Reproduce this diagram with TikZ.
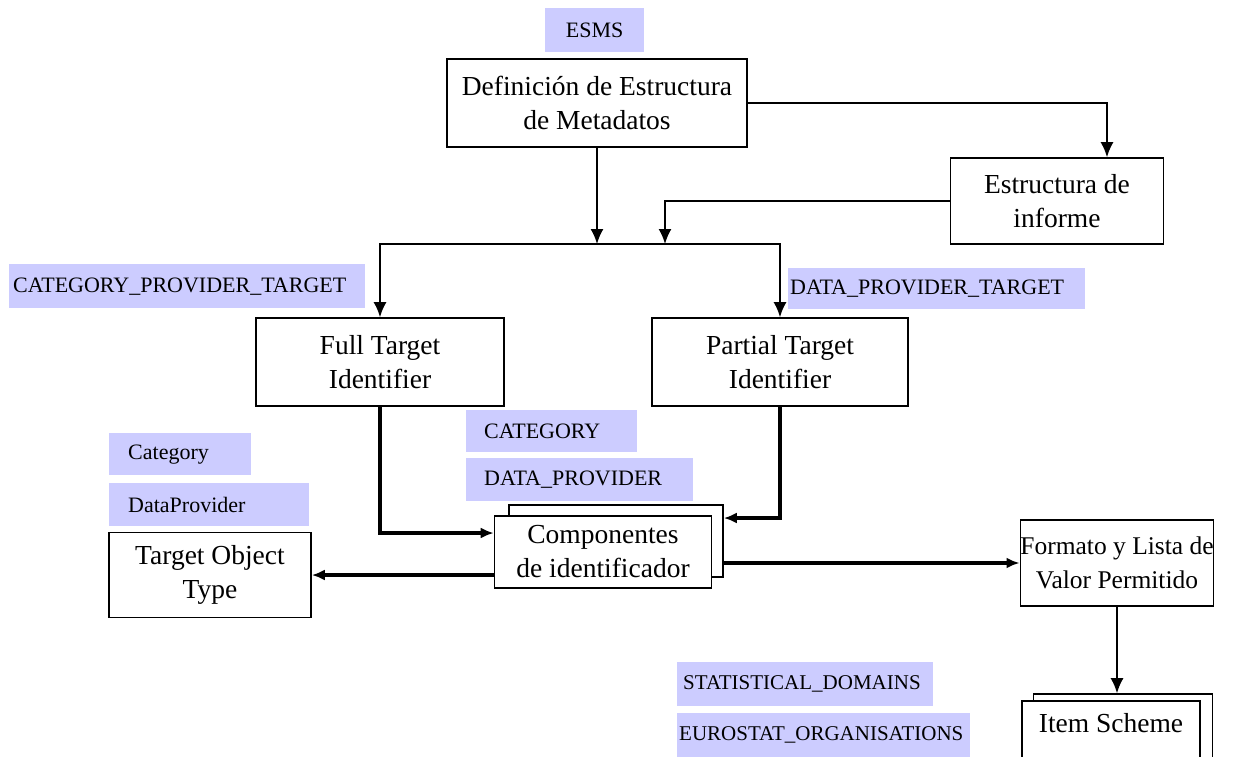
\documentclass[tikz,border=0pt]{standalone}
\usepackage{fontspec}
\setmainfont{Liberation Serif}
\usetikzlibrary{arrows.meta}
\definecolor{lav}{RGB}{204,204,255}

\begin{document}
\begin{tikzpicture}[x=1pt,y=-1pt,
		box/.style={draw, line width=1.6pt, fill=white, align=center, inner sep=0pt, font=\fontsize{27.5}{34}\selectfont},
		tag/.style={fill=lav, anchor=north west, inner ysep=0pt, align=left, font=\fontsize{22}{24}\selectfont},
		conn/.style={line width=1.8pt, arrows=-{Latex[length=15pt,width=13pt]}},
		bold/.style={line width=3.5pt, arrows=-{Latex[length=13pt,width=11pt]}}]
		\useasboundingbox (0,0) rectangle (1244,756);
		\clip (0,0) rectangle (1244,756);
		
		\node[tag, align=center, minimum width=99, text width=91, inner xsep=4, minimum height=44] (esms) at (545,8) {ESMS};
		\node[box, minimum width=300, minimum height=88] (dem) at (597,103) {Definición de Estructura\\de Metadatos};
		\node[box, minimum width=213, minimum height=86] (estr) at (1057,201) {Estructura de\\informe};
		
		\coordinate (join) at (665,244);
		\coordinate (busR) at (780,244);
		
		\node[tag, minimum width=356, text width=348, inner xsep=4, minimum height=44] (cpt) at (9,264) {CATEGORY\_PROVIDER\_TARGET};
		\node[tag, minimum width=297, text width=293, inner xsep=2, minimum height=41] (dpt) at (788,268) {DATA\_PROVIDER\_TARGET};
		
		\node[box, minimum width=248, minimum height=88] (full) at (380,362) {Full Target\\Identifier};
		\node[box, minimum width=256, minimum height=88] (part) at (780,362) {Partial Target\\Identifier};
		
		\node[tag, minimum width=171, text width=135, inner xsep=18, minimum height=42] (cat) at (466,410) {CATEGORY};
		\node[tag, minimum width=227, text width=191, inner xsep=18, minimum height=43] (dprov) at (466,458) {DATA\_PROVIDER};
		\node[tag, minimum width=142, text width=104, inner xsep=19, minimum height=42] (catobj) at (109,433) {Category};
		\node[tag, minimum width=200, text width=162, inner xsep=19, minimum height=43] (dpobj) at (109,483) {DataProvider};
		
		\node[box, minimum width=214, minimum height=72] (compB) at (616,541) {};
		\node[box, minimum width=217, minimum height=72] (compF) at (603,552) {Componentes\\de identificador};
		
		\node[box, minimum width=202, minimum height=85] (target) at (210,575) {Target Object\\Type};
		\node[box, minimum width=191, minimum height=86, font=\fontsize{25.5}{34}\selectfont] (formato) at (1117,563) {Formato y Lista de\\Valor Permitido};
		
		\node[tag, minimum width=256, text width=244, inner xsep=6, minimum height=44, font=\fontsize{21}{24}\selectfont] (stat) at (677,662) {STATISTICAL\_DOMAINS};
		\node[tag, minimum width=293, text width=289, inner xsep=2, minimum height=44, font=\fontsize{21}{24}\selectfont] (euro) at (677,713) {EUROSTAT\_ORGANISATIONS};
		
		\node[box, minimum width=179, minimum height=76] (itemB) at (1123,732) {};
		\node[box, minimum width=178, minimum height=76] (itemF) at (1111,739) {};
		\node[font=\fontsize{27.5}{34}\selectfont] (itemtxt) at (1111,723) {Item Scheme};
		
		\draw[conn] (dem.east) -| ([xshift=50pt]estr.north);
		\draw[conn] (dem.south) -- (dem.south |- busR);
		\draw[conn] (estr.west) -| (join);
		\draw[conn, arrows={Latex[length=15pt,width=13pt]}-{Latex[length=15pt,width=13pt]}] (full.north) |- (busR) -- (part.north);
		
		\draw[bold] (full.south) |- ([yshift=19pt]compF.west);
		\draw[bold] (part.south) |- ([yshift=23pt]compB.east);
		\draw[bold] (compF.west |- target.east) -- (target.east);
		\draw[bold] (compB.east |- formato.west) -- (formato.west);
		\draw[conn] (formato.south) -- (formato.south |- itemB.north);
	\end{tikzpicture}
\end{document}
